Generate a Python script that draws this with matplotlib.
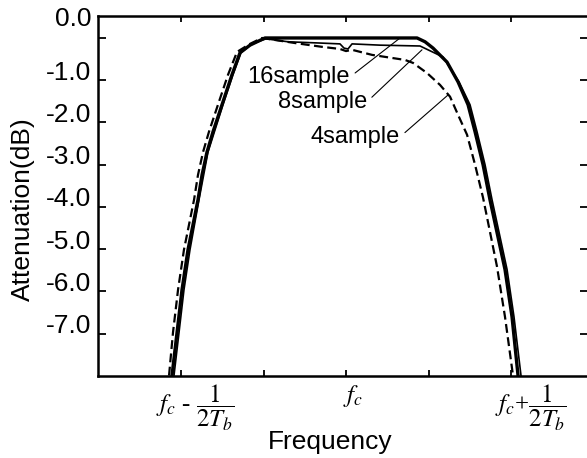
import matplotlib
matplotlib.use("Agg")
import matplotlib.pyplot as plt
import matplotlib.transforms as mtransforms

plt.rcParams["font.family"] = ["Liberation Sans", "DejaVu Sans"]
plt.rcParams["mathtext.fontset"] = "stix"
plt.rcParams["axes.unicode_minus"] = False

# frequency in units of tick spacing (fc = 0), attenuation in dB
x16 = [-2.109, -2.048, -1.988, -1.915, -1.794, -1.745, -1.685, -1.612, -1.503,
       -1.382, -1.285, -1.164, -0.982, -0.558, 0.0, 0.861, 0.958, 1.055, 1.224,
       1.358, 1.479, 1.564, 1.661, 1.745, 1.927, 2.012, 2.085]
y16 = [-7.99, -6.97, -5.96, -5.01, -3.83, -3.24, -2.70, -2.22, -1.58,
       -0.87, -0.35, -0.17, 0.0, 0.0, 0.0, 0.0, -0.09, -0.24, -0.57,
       -1.04, -1.58, -2.22, -3.00, -3.83, -5.48, -6.60, -7.99]

x8 = [-2.085, -2.024, -1.964, -1.891, -1.782, -1.673, -1.491, -1.370, -1.273,
      -1.139, -0.970, -0.703, -0.315, -0.073, -0.024, 0.024, 0.073, 0.412,
      0.897, 1.176, 1.370, 1.503, 1.588, 1.685, 1.770, 1.952, 2.036, 2.121]
y8 = [-7.99, -6.97, -5.96, -5.01, -3.83, -2.70, -1.58, -0.87, -0.35,
      -0.14, -0.02, -0.09, -0.12, -0.14, -0.24, -0.26, -0.14, -0.17,
      -0.19, -0.45, -1.04, -1.58, -2.22, -3.00, -3.83, -5.48, -6.60, -7.99]

x4 = [-2.145, -2.097, -2.036, -1.964, -1.842, -1.794, -1.733, -1.661, -1.552,
      -1.430, -1.321, -1.164, -1.018, -0.618, -0.291, -0.073, 0.0, 0.073,
      0.315, 0.715, 0.812, 0.982, 1.139, 1.261, 1.358, 1.467, 1.564, 1.661,
      1.830, 1.927, 2.024]
y4 = [-7.99, -6.97, -5.96, -5.01, -3.83, -3.24, -2.70, -2.22, -1.58,
      -0.87, -0.33, -0.14, 0.0, -0.12, -0.21, -0.26, -0.31, -0.28,
      -0.40, -0.52, -0.59, -0.83, -1.11, -1.39, -1.82, -2.29, -3.00, -3.78,
      -5.41, -6.60, -7.99]

yticks = [0, -1, -2, -3, -4, -5, -6, -7]
ylabels = ["0.0", "-1.0", "-2.0", "-3.0", "-4.0", "-5.0", "-6.0", "-7.0"]
xticks = [-2, -1, 0, 1, 2]
xlabel_pos = [-1.83, 0.08, 2.24]
xlabels = [r"$f_c$ - $\dfrac{1}{2T_b}$", r"$f_c$", r"$f_c$+$\dfrac{1}{2T_b}$"]

fig = plt.figure(figsize=(5.87, 4.58), dpi=100)
ax = fig.add_axes([98 / 587, 1 - 376 / 458, 490 / 587, 360 / 458])

ax.plot(x16, y16, color="black", lw=2.4, solid_joinstyle="round")
ax.plot(x8, y8, color="black", lw=1.2)
ax.plot(x4, y4, color="black", lw=1.6, linestyle=(0, (4, 2)))

ax.set_xlim(-3.006, 2.933)
ax.set_ylim(-8.0, 0.52)

for s in ax.spines.values():
    s.set_linewidth(1.8)

ax.set_yticks(yticks, ylabels)
ax.set_xticks(xticks, [])
ax.set_xticks(xlabel_pos, xlabels, minor=True, fontsize=18,
              fontfamily="Liberation Serif")
ax.tick_params(axis="y", which="major", direction="in", length=6, width=1.3,
               right=True, labelsize=19, pad=5)
ax.tick_params(axis="x", which="major", direction="in", length=4.5, width=1.3,
               top=True)
ax.tick_params(axis="x", which="minor", length=0, pad=5)

# tick labels sit a little above their ticks in the original
for lab, v in zip(ax.get_yticklabels(), yticks):
    dy = 21 if v == 0 else 10
    off = mtransforms.ScaledTranslation(0, dy / 100, fig.dpi_scale_trans)
    lab.set_transform(lab.get_transform() + off)

ax.set_ylabel("Attenuation(dB)", fontsize=19)
ax.yaxis.set_label_coords(-0.129, 0.464)
ax.set_xlabel("Frequency", fontsize=19)
ax.xaxis.set_label_coords(0.473, -0.15)

arrow = dict(arrowstyle="-", lw=0.8, color="black", shrinkA=2, shrinkB=0,
             relpos=(1, 0.5))
ax.annotate("16sample", xy=(0.655, 0.0), xytext=(0.05, -0.92), ha="right",
            va="center", fontsize=17, arrowprops=arrow)
ax.annotate("8sample", xy=(0.921, -0.28), xytext=(0.255, -1.51), ha="right",
            va="center", fontsize=17, arrowprops=arrow)
ax.annotate("4sample", xy=(1.236, -1.35), xytext=(0.655, -2.34), ha="right",
            va="center", fontsize=17, arrowprops=arrow)

fig.savefig("out.png", dpi=100)
